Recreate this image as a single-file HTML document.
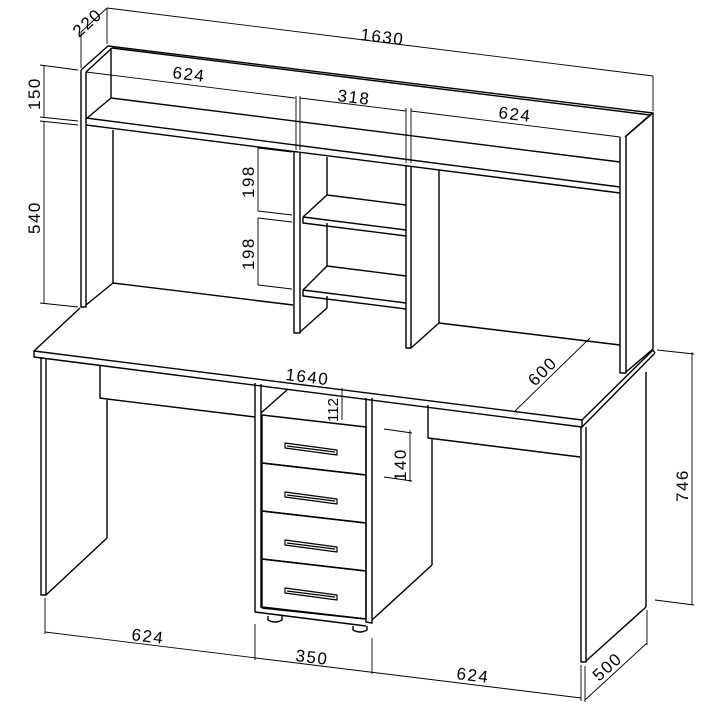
<!DOCTYPE html>
<html><head><meta charset="utf-8"><style>
html,body{margin:0;padding:0;background:#fff}
svg{display:block}
text{font-family:"Liberation Sans",sans-serif;font-size:17px;fill:#000;letter-spacing:1.5px}
</style></head><body>
<svg width="720" height="720" viewBox="0 0 720 720" xmlns="http://www.w3.org/2000/svg">
<g fill="none" stroke="#000" stroke-width="1.4" stroke-linejoin="round">
<polyline points="81,70 108,46 653,113 625,137"/>
<line x1="86" y1="72" x2="112" y2="48"/>
<line x1="112" y1="48" x2="650" y2="115"/>
<polyline points="81,70 81,307 86,307 86,72"/>
<line x1="86" y1="305" x2="113" y2="283"/>
<line x1="111" y1="48" x2="111" y2="98"/>
<line x1="113" y1="130" x2="113" y2="283"/>
<line x1="113" y1="283" x2="293" y2="305"/>
<line x1="111" y1="98" x2="620" y2="162"/>
<line x1="86" y1="119" x2="111" y2="98"/>
<line x1="86" y1="118" x2="620" y2="187"/>
<line x1="86" y1="125" x2="620" y2="193"/>
<polyline points="620,137 620,373 626,373 626,136 650,115 653,113 653,349"/>
<line x1="626" y1="372" x2="653" y2="349"/>
<line x1="439" y1="170" x2="439" y2="323"/>
<line x1="439" y1="323" x2="620" y2="345"/>
<line x1="411" y1="348" x2="439" y2="323"/>
<polyline points="294,152 294,333 300,333 300,153"/>
<line x1="300" y1="332" x2="327" y2="308"/>
<polyline points="406,165 406,348 411,348 411,166"/>
<line x1="327" y1="157" x2="327" y2="195"/>
<line x1="327" y1="223" x2="327" y2="266"/>
<polyline points="303,217 303,223 406,236"/>
<line x1="303" y1="217" x2="406" y2="230"/>
<line x1="303" y1="217" x2="327" y2="195"/>
<line x1="327" y1="195" x2="406" y2="205"/>
<polyline points="303,290 303,296 406,309"/>
<line x1="303" y1="290" x2="406" y2="303"/>
<line x1="303" y1="290" x2="327" y2="266"/>
<line x1="327" y1="266" x2="406" y2="276"/>
<line x1="327" y1="296" x2="327" y2="308"/>
<polyline points="80,308 34,351 34,357 582,427 582,420 34,351"/>
<line x1="582" y1="420" x2="653" y2="350"/>
<line x1="582" y1="427" x2="655" y2="353"/>
<line x1="653" y1="350" x2="655" y2="353"/>
<polyline points="41,357 41,595 46,595 46,358"/>
<line x1="46" y1="595" x2="107" y2="538"/>
<line x1="107" y1="400" x2="107" y2="538"/>
<polyline points="100,365 100,398 107,399"/>
<line x1="107" y1="399" x2="255" y2="417"/>
<polyline points="255,383 255,612 366,626"/>
<line x1="261" y1="384" x2="261" y2="608"/>
<polyline points="366,398 366,622 372,623 372,398"/>
<line x1="261" y1="413" x2="287" y2="390"/>
<line x1="262" y1="608" x2="366" y2="619"/>
<g>
<polygon points="262,415 366,427 366,475 262,463"/>
<polygon points="262,463 366,475 366,523 262,511"/>
<polygon points="262,511 366,523 366,571 262,559"/>
<polygon points="262,559 366,571 366,619 262,607"/>
</g>
<g stroke-width="1.2">
<polygon points="285,443 337,450 337,455 285,448"/><line x1="287" y1="446" x2="335" y2="452"/>
<polygon points="285,492 337,499 337,504 285,497"/><line x1="287" y1="495" x2="335" y2="501"/>
<polygon points="285,540 337,547 337,552 285,545"/><line x1="287" y1="543" x2="335" y2="549"/>
<polygon points="285,588 337,595 337,600 285,593"/><line x1="287" y1="591" x2="335" y2="597"/>
</g>
<path d="M268,616 v4 q7,4 14,0 v-4"/>
<path d="M353,626 v4 q7,4 14,0 v-4"/>
<polyline points="428,405 428,438 580,457"/>
<line x1="432" y1="438" x2="432" y2="565"/>
<line x1="432" y1="565" x2="372" y2="620"/>
<polyline points="581,427 581,662 586,662 586,427"/>
<line x1="586" y1="661" x2="646" y2="607"/>
<line x1="646" y1="372" x2="646" y2="607"/>
</g>
<g fill="none" stroke="#000" stroke-width="0.9">
<line x1="107" y1="8" x2="653" y2="76"/>
<line x1="107" y1="8" x2="107" y2="44"/><line x1="653" y1="76" x2="653" y2="111"/>
<line x1="81" y1="32" x2="107" y2="8"/><line x1="81" y1="32" x2="81" y2="68"/>
<line x1="44" y1="65" x2="44" y2="117"/><line x1="44" y1="121" x2="44" y2="303"/>
<line x1="40" y1="65" x2="78" y2="70"/><line x1="40" y1="117" x2="78" y2="121"/>
<line x1="40" y1="121" x2="78" y2="125"/><line x1="40" y1="303" x2="78" y2="307"/>
<line x1="86" y1="72" x2="295" y2="98"/>
<line x1="300" y1="98" x2="406" y2="111"/>
<line x1="411" y1="111" x2="620" y2="137"/>
<line x1="296" y1="96" x2="296" y2="150"/><line x1="300" y1="96" x2="300" y2="150"/>
<line x1="406" y1="108" x2="406" y2="163"/><line x1="411" y1="108" x2="411" y2="163"/>
<line x1="258" y1="147" x2="258" y2="211"/><line x1="258" y1="218" x2="258" y2="285"/>
<line x1="258" y1="148" x2="292" y2="152"/><line x1="258" y1="211" x2="292" y2="215"/>
<line x1="258" y1="218" x2="292" y2="222"/><line x1="258" y1="285" x2="292" y2="289"/>
<line x1="342" y1="388" x2="342" y2="420"/>
<line x1="410" y1="430" x2="410" y2="482"/>
<line x1="384" y1="429" x2="412" y2="433"/><line x1="384" y1="477" x2="412" y2="481"/>
<line x1="515" y1="411" x2="590" y2="338"/>
<line x1="692" y1="352" x2="692" y2="605"/>
<line x1="657" y1="350" x2="694" y2="354"/><line x1="655" y1="600" x2="694" y2="605"/>
<line x1="585" y1="700" x2="647" y2="643"/>
<line x1="585" y1="666" x2="585" y2="702"/><line x1="647" y1="610" x2="647" y2="645"/>
<line x1="45" y1="632" x2="581" y2="698"/>
<line x1="45" y1="598" x2="45" y2="634"/><line x1="255" y1="624" x2="255" y2="660"/>
<line x1="372" y1="638" x2="372" y2="674"/><line x1="581" y1="665" x2="581" y2="701"/>
</g>
<text transform="translate(360,40) rotate(7)">1630</text>
<text transform="translate(79,38) rotate(-42)">220</text>
<text transform="translate(40,110) rotate(-90)">150</text>
<text transform="translate(40,234) rotate(-90)">540</text>
<text transform="translate(172,78) rotate(7)">624</text>
<text transform="translate(337,101) rotate(7)">318</text>
<text transform="translate(498,118) rotate(7)">624</text>
<text transform="translate(254,198) rotate(-90)">198</text>
<text transform="translate(254,270) rotate(-90)">198</text>
<text transform="translate(285,380) rotate(7)">1640</text>
<text transform="translate(338,422) rotate(-90)" style="font-size:15px;letter-spacing:0">112</text>
<text transform="translate(406,481) rotate(-90)">140</text>
<text transform="translate(535,387) rotate(-45)">600</text>
<text transform="translate(688,502) rotate(-90)">746</text>
<text transform="translate(599,682) rotate(-42)">500</text>
<text transform="translate(131,640) rotate(7)">624</text>
<text transform="translate(295,661) rotate(7)">350</text>
<text transform="translate(456,679) rotate(7)">624</text>
</svg>
</body></html>
